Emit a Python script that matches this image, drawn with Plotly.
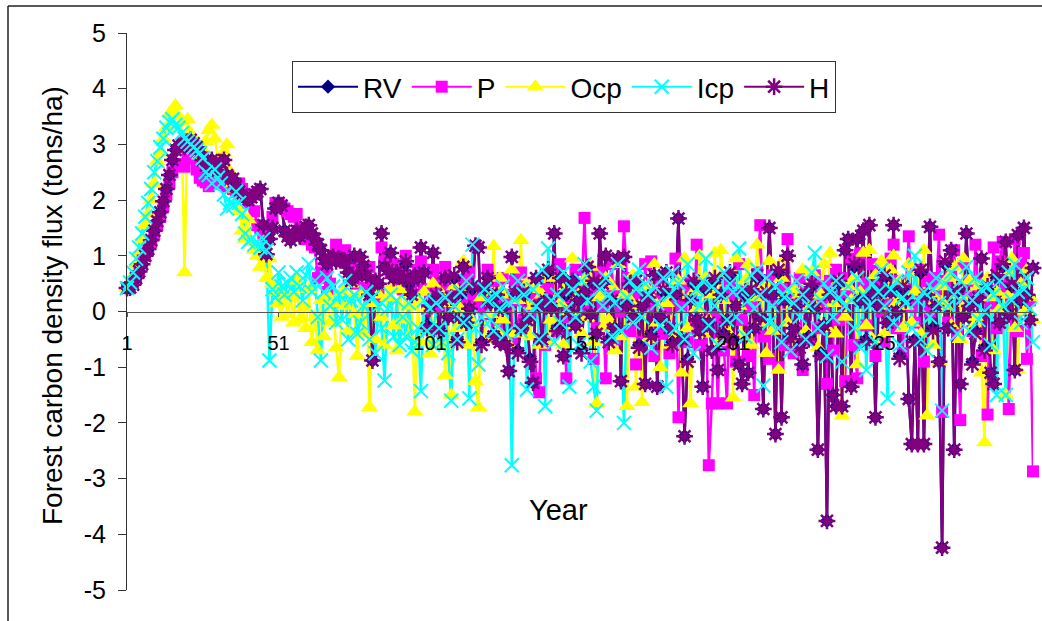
import plotly.graph_objects as go

H = [
.42,.43,.48,.6,.72,.85,1.0,1.12,1.28,1.45,
1.62,1.78,1.98,2.2,2.45,2.72,2.9,2.98,3.0,2.95,
3.05,3.08,3.02,2.95,2.85,2.72,2.62,2.55,2.72,2.6,
2.52,2.68,2.72,2.45,2.38,2.38,2.25,2.15,2.1,2.05,
2.0,2.05,2.1,2.15,2.2,1.55,1.03,1.3,1.5,1.85,
1.95,1.9,1.45,1.35,1.28,1.4,1.45,1.35,1.45,1.52,
1.55,1.4,1.3,1.2,1.1,.95,.85,.95,.98,.9,
.95,.92,.88,.7,.55,1.0,.65,.98,.82,.65,
.3,-.88,.55,.5,1.4,.8,.75,1.05,.6,.7,
.65,.6,.9,.55,.3,.65,.6,1.15,.7,-.3,
.1,1.05,.3,-.35,.2,.6,-.1,.25,.65,-.55,
.35,.8,-.2,.05,.45,1.18,1.15,-.6,.4,.6,
.15,-.45,.3,-.55,.05,-.6,-1.07,.98,.35,-.75,
-.3,.35,-.15,-.9,-1.28,.6,.1,-.5,.2,.75,
.05,1.4,-.35,.6,-.8,.35,.0,.55,-.25,.2,
-.75,.35,.8,-.05,.55,-.4,1.4,.5,1.0,-.55,
.2,-.3,.95,-1.25,.98,.1,.5,-.1,.55,-.65,
.1,-1.3,.25,-.45,.65,-1.35,-.1,.4,.7,-.3,
-.6,.3,1.67,-.5,-2.24,-.9,.2,.55,-.15,-.35,
-1.35,.45,-.2,-.7,.6,-1.05,.3,-.45,-.15,.7,
-.55,.1,-.95,-1.3,.35,-1.1,.4,-.3,.65,-.1,
-1.75,.35,1.5,.3,-2.2,.75,-1.9,.2,1.0,-.5,
-.3,.1,-.65,-.95,.3,-.5,.5,.05,-2.48,-.8,
-.25,-3.76,.3,-1.5,-1.7,.55,-1.7,1.1,1.3,-1.35,
.85,1.3,.2,1.45,-.55,1.55,.3,-1.9,.1,.4,
.65,-.2,.35,1.55,.0,-.85,.45,.2,-1.57,-2.38,
-.55,-2.38,.75,-2.38,.3,1.52,-.35,.1,-.9,-4.24,
.9,-.3,1.1,-2.48,.4,-1.3,-.1,1.4,.1,-.95,
-.4,.25,.95,-.7,.45,-1.1,-1.3,.65,-.2,.85,
1.25,-.05,.5,-1.05,1.37,.2,1.5,.3,-.15,.78,
]
RV = [
.42,.43,.48,.6,.72,.85,1.0,1.12,1.28,1.45,
1.62,1.78,1.98,2.2,2.45,2.72,2.9,2.98,3.0,2.95,
3.05,3.08,3.02,2.95,2.85,2.72,2.62,2.55,2.72,2.6,
2.52,2.68,2.72,2.45,2.38,2.38,2.25,2.15,2.1,2.05,
2.0,2.05,2.1,2.15,2.2,1.55,1.03,1.3,1.5,1.85,
1.95,1.9,1.45,1.35,1.28,1.4,1.45,1.35,1.45,1.52,
1.55,1.4,1.3,1.2,1.1,.95,.85,.9,.98,.9,
.95,.92,.88,.7,.55,1.0,.65,.98,.82,.65,
.3,-.88,.55,.5,1.4,.8,.75,1.05,.6,.7,
.6,.6,.85,.5,.3,.65,.6,1.15,.7,-.25,
.1,1.05,.25,-.3,.2,.6,-.1,.25,.6,-.5,
.3,.8,-.2,.05,.4,1.18,1.15,-.55,.4,.6,
.15,-.4,.3,-.55,.05,-.6,-1.07,.98,.3,-.7,
-.3,.3,-.15,-.85,-1.28,.6,.1,-.5,.2,.7,
.05,1.4,-.3,.6,-.8,.3,.0,.55,-.25,.2,
-.7,.35,.8,-.05,.5,-.4,1.4,.5,1.0,-.5,
.2,-.3,.95,-1.25,.98,.1,.5,-.1,.5,-.6,
.1,-1.3,.25,-.4,.65,-1.35,-.1,.35,.7,-.3,
-.55,.3,1.67,-.5,-2.24,-.85,.2,.5,-.15,-.35,
-1.35,.4,-.2,-.7,.55,-1.05,.3,-.4,-.15,.65,
-.5,.1,-.95,-1.3,.3,-1.1,.35,-.3,.6,-.1,
-1.75,.3,1.5,.3,-2.2,.7,-1.9,.2,1.0,-.45,
-.3,.1,-.6,-.95,.3,-.45,.45,.05,-2.48,-.75,
-.25,-3.76,.3,-1.5,-1.7,.5,-1.7,1.1,1.3,-1.35,
.8,1.3,.2,1.45,-.5,1.55,.3,-1.9,.1,.35,
.6,-.2,.35,1.55,.0,-.8,.4,.2,-1.57,-2.38,
-.5,-2.38,.7,-2.38,.3,1.52,-.3,.1,-.9,-4.24,
.85,-.3,1.1,-2.48,.35,-1.3,-.1,1.4,.1,-.9,
-.35,.25,.95,-.65,.4,-1.1,-1.3,.6,-.2,.8,
1.25,-.05,.45,-1.05,1.37,.2,1.5,.3,-.15,.78,
]
P = [
.42,.44,.5,.62,.74,.88,1.0,1.12,1.25,1.4,
1.55,1.7,1.9,2.1,2.3,2.5,2.62,2.65,2.62,2.6,
2.75,2.85,2.75,2.55,2.4,2.35,2.32,2.25,2.3,2.3,
2.4,2.45,2.3,2.25,2.3,2.2,2.15,2.3,2.2,2.1,
1.95,2.1,1.8,1.55,1.5,1.4,1.35,1.5,1.7,1.95,
1.95,1.9,1.85,1.8,1.75,1.7,1.75,1.5,1.4,1.3,
1.3,1.2,1.15,.6,.7,.7,.35,.5,1.0,1.2,
1.0,.95,1.1,.95,.9,.85,.5,.75,.6,.45,
.8,.3,.2,.4,1.15,.9,1.0,.7,.85,.5,
.75,.4,1.0,.6,.55,.3,.75,.9,.4,.05,
.35,.75,.55,.1,.35,.8,.2,.4,.15,.55,
.3,.1,.5,.7,.25,.35,.1,.4,-.05,.75,
.3,.55,-.3,.15,.6,.1,.3,-.5,.55,.2,
.7,-.15,.45,.0,.3,-1.2,-1.45,.35,-.6,.4,
.1,.65,-.35,.85,.25,-1.2,-.1,.5,.75,.2,
.35,1.68,.0,.4,-.85,-.3,.7,.1,-1.2,.45,
.85,-.5,.3,.0,1.53,.6,-.35,.5,-.95,.25,
-.55,.85,.1,.9,-.8,.3,.55,-.4,.05,-.75,
.2,.95,-1.9,.1,.5,-.55,.3,-.3,1.2,-.6,
-.2,.45,-2.76,-1.65,-.1,-1.65,.3,-.7,-1.65,.55,
.3,-.9,.85,-.15,.35,-.8,.1,-1.5,.7,1.55,
-.45,.3,-.85,.65,.2,-1.0,.4,-.6,1.3,.3,
-.75,.1,.6,-1.05,.35,-.5,.1,.65,-.3,.45,
.1,-1.3,.55,-.7,.75,-.15,.6,-1.25,.35,.95,
-.6,-1.2,1.05,.5,-.25,.3,.85,-.8,.5,.0,
-.55,.2,.95,1.2,-.3,.55,-.75,.4,1.35,.1,
-.2,.75,.3,-.9,.55,.0,.6,.4,1.38,-1.8,
.55,-.2,.7,1.1,-.4,-1.95,.85,.25,.55,-.35,
1.2,.35,-.8,.5,-1.85,.15,1.15,-.3,.9,1.25,
.45,-1.75,.3,1.3,-.35,.85,1.05,-.85,.2,-2.87,
]
Ocp = [
.42,.5,.65,.85,1.05,1.3,1.55,1.75,2.0,2.3,
2.7,2.85,3.1,3.3,3.55,3.6,3.7,3.5,3.4,.7,
3.45,3.2,3.1,2.95,2.8,2.9,3.05,3.25,3.35,3.1,
2.75,2.65,2.85,3.0,2.5,2.3,2.2,1.8,1.45,1.3,
1.65,1.25,1.1,1.0,.8,1.0,.6,.95,.5,.35,
.15,-.1,.3,-.05,.25,-.2,.55,-.15,.05,-.3,
.4,-.55,-.1,-.7,.2,-.45,.3,-.2,.15,-.65,
-1.18,.35,.1,-.35,.5,-.05,-.8,.3,-.4,.6,
-1.72,.15,-.5,.3,-.1,-.6,.25,.45,-.25,-.7,
.4,-.15,.55,-.45,.1,-1.8,.2,-.55,.35,.05,
-.75,.5,-.3,-.6,.3,-1.15,.15,-1.5,.45,-.3,
.05,.9,-.6,.4,-.2,-1.25,-1.72,.25,-.5,.35,
-.05,1.17,-.35,.6,-.15,.3,-.6,.75,-.4,.2,
1.28,-.25,.5,-.45,.1,.4,-.6,.3,.7,-.55,
-.15,.6,-.3,.15,-.6,.45,.0,.95,-.25,.3,
-.4,.55,-.1,.8,-.55,-1.65,.25,-.3,.6,-.15,
.45,-.7,.85,-.45,.3,-1.7,.2,.65,-1.35,.1,
-1.63,.45,-.5,.25,.85,-.2,-1.0,.4,.15,-.6,
.3,-.45,.55,-1.1,.95,-.3,-1.65,.35,.05,1.0,
-.4,.6,-.15,.3,1.05,-.55,1.1,.2,-.35,.7,
-1.55,.95,.1,-.45,.55,.85,-.6,.25,1.2,-.2,
.45,-.75,.9,-.35,.3,-1.05,.6,.95,-.2,.1,
.4,-.55,.3,.75,-.35,.05,.7,.1,-.65,.3,
.85,-.3,1.05,.15,-.4,.55,-1.87,-.1,.45,.2,
.6,-.95,.35,1.05,-.25,1.1,-.5,.65,.1,.9,
-.4,.3,.75,1.0,.15,.55,-.3,.1,.85,-.2,
.35,.7,-.4,1.1,-1.87,.3,-.6,.2,-.9,.45,
.1,.6,-.25,.8,.3,-.5,.95,.15,.55,-.3,
-.1,.45,-1.1,-2.35,.6,.25,-.7,.35,.05,.7,
-1.5,.3,.95,-.3,-1.05,.5,.0,.75,.25,-.15,
]
Icp = [
.42,.52,.7,.95,1.15,1.4,1.7,1.95,2.2,2.5,
2.7,2.95,3.1,3.3,3.4,3.45,3.35,3.3,3.2,3.1,
3.05,3.0,2.95,2.9,2.85,2.75,2.5,2.45,2.3,2.55,
2.4,2.3,2.1,1.85,1.95,1.9,2.15,1.95,1.75,1.4,
1.25,1.3,1.2,1.25,1.15,1.3,1.1,-.88,.4,.25,
.7,.45,.3,.5,.6,.35,.7,.45,.2,.65,
.85,.35,.55,-.1,-.88,.35,.6,.1,.45,-.2,
.3,-.15,.55,-.5,.2,.3,-.4,-.2,.1,.35,
-.5,.25,-.75,.1,-.3,-1.24,.05,.3,-.45,.2,
-.6,-.1,-.45,.15,-.7,-.55,-.3,-1.43,.2,-.35,
.05,-.6,.15,-.3,-.55,.25,-.75,-1.6,.1,-.5,
.35,-.2,.55,-1.56,1.2,-.3,-.95,-.1,.4,.2,
-.15,-.35,.3,.05,.45,-.4,.15,-2.76,.2,.55,
-.35,.3,-1.4,-.05,.4,.1,-.5,.75,-1.7,1.13,
.2,-.55,.3,-.2,.7,.05,-1.35,.4,-.1,-.6,
.55,.85,.2,-.9,-1.35,-1.78,.4,.1,.6,.3,
-.45,.15,.85,-.35,-2.0,.25,.55,-.2,.4,.75,
-.1,.5,.3,-.65,.45,.15,-.25,.6,-1.35,.3,
.7,-.3,.5,.05,-.5,.85,.2,-.75,.4,.1,
.55,.95,-.25,.45,.1,-.6,.3,.7,-.15,.5,
.35,-.1,1.13,.4,-.45,.2,.65,.05,.75,.3,
-1.33,.6,-.2,.1,.45,-.3,-.55,.25,.4,-.7,
.15,.55,-.1,.3,-.5,.1,.7,1.05,-.3,.2,
.5,-.8,.35,-.1,.55,.25,-.9,.1,.45,.2,
-.3,.6,-.65,.3,-1.05,.1,.5,-.55,.35,.75,
.1,-1.56,.4,-.2,.55,-.6,.25,.15,.7,-.3,
1.0,.2,-.5,.35,-.7,-.1,.4,.6,.15,-1.78,
.5,.1,.7,.3,-.4,.55,.25,.8,-.35,.2,
.6,-.15,.4,.0,.45,-.6,.3,-1.5,.55,.1,
-1.5,.7,.2,.85,.35,-.2,.4,.6,.05,-.55,
]
years = list(range(1, len(H) + 1))
y_ticks = [-5, -4, -3, -2, -1, 0, 1, 2, 3, 4, 5]
y_tick_labels = ["-5", "-4", "-3", "-2", "-1", "0", "1", "2", "3", "4", "5"]
x_ticks = [1, 51, 101, 151, 201, 251]
x_tick_labels = ["1", "51", "101", "151", "201", "25"]

W, HT = 1042, 621
L, R, T, B = 127, 9, 33, 31
FONT = "Liberation Sans, Arial, sans-serif"

def px(v):
    return (v - L) / (W - L - R)

def py(v):
    return 1 - (v - T) / (HT - T - B)

styles = {
    "RV": (RV, "#000080", dict(symbol="diamond", size=11)),
    "P": (P, "#FF00FF", dict(symbol="square", size=12)),
    "Ocp": (Ocp, "#FFFF00", dict(symbol="triangle-up", size=15)),
    "Icp": (Icp, "#00FFFF", dict(symbol="x-thin", size=14, line=dict(width=2, color="#00FFFF"))),
    "H": (H, "#800080", dict(symbol="asterisk", size=14, line=dict(width=2.5, color="#800080"))),
}
legend_order = ["RV", "P", "Ocp", "Icp", "H"]
marker_order = ["P", "Ocp", "RV", "H", "Icp"]

fig = go.Figure()
# connecting lines lie under every marker, as in the reference
for name in legend_order:
    vals, col, mk = styles[name]
    fig.add_trace(go.Scatter(x=years, y=vals, mode="lines", showlegend=False, cliponaxis=False,
                             line=dict(color=col, width=2.5), hoverinfo="skip"))
for name in marker_order:
    vals, col, mk = styles[name]
    fig.add_trace(go.Scatter(x=years, y=vals, mode="markers", name=name, showlegend=False, cliponaxis=False,
                             marker=dict(color=col, **mk)))
for name in legend_order:
    vals, col, mk = styles[name]
    fig.add_trace(go.Scatter(x=[None], y=[None], mode="lines+markers", name=name,
                             line=dict(color=col, width=2), marker=dict(color=col, **mk)))

fig.update_layout(
    width=W, height=HT, margin=dict(l=L, r=R, t=T, b=B, pad=0, autoexpand=False),
    paper_bgcolor="white", plot_bgcolor="white", font=dict(family=FONT, color="black", size=24),
    legend=dict(orientation="h", x=px(292), y=py(61), xanchor="left", yanchor="top", bgcolor="white",
                bordercolor="#333", borderwidth=1, itemwidth=60, font=dict(size=28), traceorder="normal",
                itemclick=False),
    xaxis=dict(range=[1, 300], anchor="free", position=0.5, showgrid=False, zeroline=False, showline=True,
               linecolor="#555", linewidth=1, tickmode="array", tickvals=x_ticks, ticktext=x_tick_labels,
               ticks="outside", ticklen=4, tickcolor="#555", tickfont=dict(size=20), ticklabelstandoff=9),
    yaxis=dict(range=[-5, 5], showgrid=False, zeroline=False, showline=True, linecolor="#333", linewidth=1,
               tickmode="array", tickvals=y_ticks, ticktext=y_tick_labels, ticks="outside", ticklen=8,
               tickcolor="#333", tickfont=dict(size=25), ticklabelstandoff=7),
    annotations=[
        dict(text="Year", xref="paper", yref="paper", x=px(558), y=py(510), xanchor="center", yanchor="middle",
             showarrow=False, font=dict(size=29)),
        dict(text="Forest carbon density flux (tons/ha)", xref="paper", yref="paper", x=px(52), y=py(306),
             xanchor="center", yanchor="middle", textangle=-90, showarrow=False, font=dict(size=28)),
    ],
    shapes=[
        dict(type="line", xref="paper", yref="paper", x0=px(8), x1=px(8), y0=py(6), y1=py(621),
             line=dict(color="#222", width=1.5)),
        dict(type="line", xref="paper", yref="paper", x0=px(8), x1=px(1042), y0=py(6), y1=py(6),
             line=dict(color="#222", width=1.5)),
    ],
)
fig.write_html("out.html", config={"displayModeBar": False},
               post_script="document.body.style.margin='0';document.body.style.overflow='hidden';")
